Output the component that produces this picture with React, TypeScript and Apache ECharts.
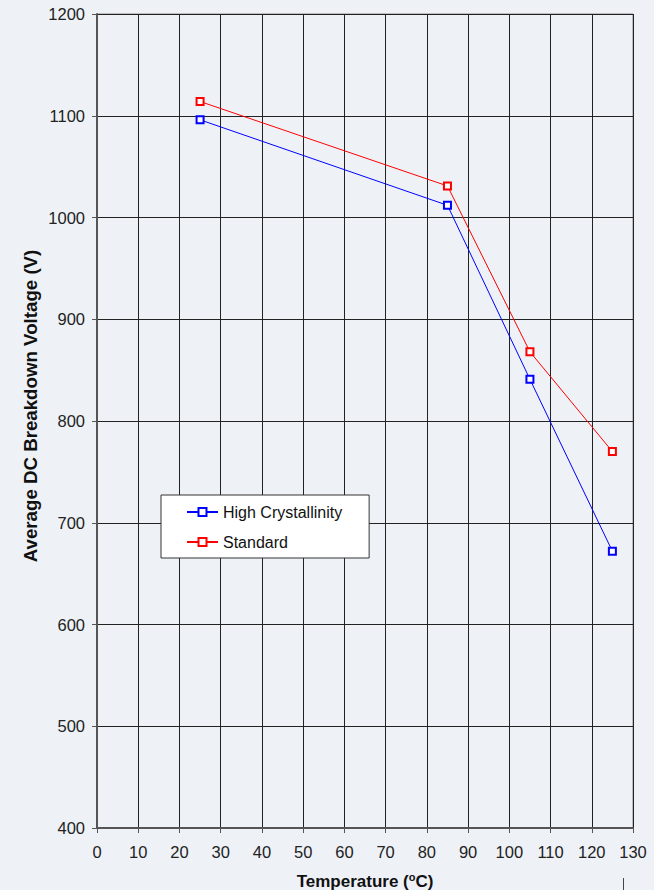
import React, { useEffect, useRef } from "react";
import * as echarts from "echarts";

const temps = [25, 85, 105, 125];
const highCryst = [1096, 1012, 841, 672];
const standard = [1114, 1031, 868, 770];
const seriesNames = ["High Crystallinity", "Standard"];
const xTitle = "{a|Temperature (}{sup|o}{a|C)}";
const yTitle = "Average DC Breakdown Voltage (V)";

export default function App() {
  const ref = useRef<HTMLDivElement>(null);
  useEffect(() => {
    const chart = echarts.init(ref.current!, null, { renderer: "svg" });
    const font = "Arial, 'Liberation Sans', sans-serif";
    chart.setOption({
      animation: false,
      backgroundColor: "#EEF2F7",
      textStyle: { fontFamily: font },
      grid: {
        left: 97, right: 21, top: 14, bottom: 62,
        outerBoundsMode: "none",
        containLabel: false,
        show: true, borderColor: "#8a8a8a", borderWidth: 1, backgroundColor: "transparent",
      },
      legend: {
        orient: "vertical",
        left: 161,
        top: 495,
        backgroundColor: "#ffffff",
        borderColor: "#333",
        borderWidth: 1,
        borderRadius: 0,
        padding: [9, 27, 8, 25],
        itemWidth: 31,
        itemHeight: 10,
        itemGap: 14,
        textStyle: { fontSize: 16, color: "#111", fontFamily: font },
        data: seriesNames,
      },
      xAxis: {
        type: "value",
        min: 0,
        max: 130,
        interval: 10,
        name: xTitle,
        nameLocation: "middle",
        nameGap: 43,
        nameTextStyle: {
          fontSize: 17,
          fontWeight: "bold",
          color: "#111",
          fontFamily: font,
          rich: {
            a: { fontSize: 17, fontWeight: "bold", color: "#111", fontFamily: font, lineHeight: 20 },
            sup: { fontSize: 11, fontWeight: "bold", color: "#111", fontFamily: font, verticalAlign: "top", lineHeight: 20 },
          },
        },
        axisLine: { show: true, lineStyle: { color: "#555", width: 2 } },
        axisTick: { show: true, length: 5, lineStyle: { color: "#555" } },
        axisLabel: { fontSize: 16.5, color: "#222", margin: 15, formatter: (v: number) => String(v) },
        splitLine: { show: true, lineStyle: { color: "#222", width: 1 } },
      },
      yAxis: {
        type: "value",
        min: 400,
        max: 1200,
        interval: 100,
        axisLine: { show: true, lineStyle: { color: "#555", width: 2 } },
        axisTick: { show: true, length: 5, lineStyle: { color: "#555" } },
        axisLabel: { fontSize: 16.5, color: "#222", margin: 12, formatter: (v: number) => String(v) },
        splitLine: { show: true, lineStyle: { color: "#222", width: 1 } },
      },
      series: [
        {
          name: seriesNames[0],
          type: "line",
          data: temps.map((t, i) => [t, highCryst[i]]),
          symbol: "emptyRect",
          symbolSize: 7,
          lineStyle: { color: "#0000FF", width: 1 },
          itemStyle: { color: "#0000FF", borderColor: "#0000FF", borderWidth: 1.2 },
        },
        {
          name: seriesNames[1],
          type: "line",
          data: temps.map((t, i) => [t, standard[i]]),
          symbol: "emptyRect",
          symbolSize: 7,
          lineStyle: { color: "#FF0000", width: 1 },
          itemStyle: { color: "#FF0000", borderColor: "#FF0000", borderWidth: 1.2 },
        },
      ],
      graphic: [
        {
          type: "text",
          x: 30,
          y: 406,
          rotation: Math.PI / 2,
          style: {
            text: yTitle,
            fontSize: 18.7,
            fontWeight: "bold",
            fill: "#111",
            fontFamily: font,
            align: "center",
            verticalAlign: "middle",
          },
        },
        { type: "line", shape: { x1: 623.5, y1: 878, x2: 623.5, y2: 890 }, style: { stroke: "#444", lineWidth: 1 } },
      ],
    });
    return () => chart.dispose();
  }, []);
  return <div ref={ref} style={{ position: "absolute", left: 0, top: 0, width: 654, height: 890 }} />;
}
